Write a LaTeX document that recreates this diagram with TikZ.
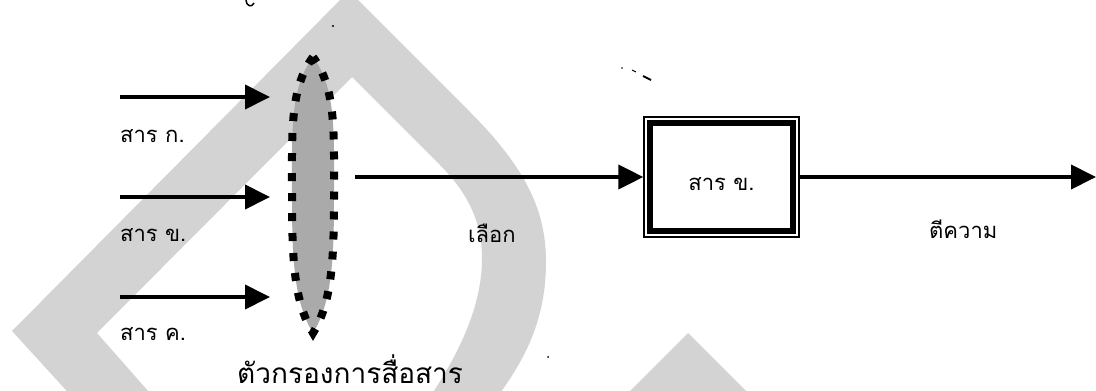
\documentclass[tikz,border=0pt]{standalone}
\usepackage{fontspec}
\newfontfamily\thaifont[Script=Thai]{Loma}
\usetikzlibrary{arrows.meta,shapes.geometric}
\definecolor{wm}{RGB}{211,211,211}
\definecolor{lensgray}{RGB}{170,170,170}
\begin{document}
\begin{tikzpicture}[x=1pt,y=-1pt,
  flow/.style={line width=4pt,-{Triangle[length=25pt,width=24pt]}},
  lbl/.style={anchor=base west,inner sep=0pt,text depth=0pt,font=\thaifont\fontsize{22}{24}\selectfont},
  biglbl/.style={anchor=base west,inner sep=0pt,text depth=0pt,font=\thaifont\fontsize{28}{30}\selectfont},
  filterlens/.style={fill=lensgray,draw=black,line width=8pt,dash pattern=on 8pt off 12pt},
  boxnode/.style={draw,line width=1.3pt,minimum width=155pt,minimum height=120pt,
    text height=26pt,text depth=0pt,inner sep=0pt,font=\thaifont\fontsize{22}{24}\selectfont}]
\clip (0,0) rectangle (1096,391);
\useasboundingbox (0,0) rectangle (1096,391);
% watermark shapes
\fill[wm,even odd rule]
  (75,400) -- (12,331) -- (349,-9) -- (470,112)
  .. controls (530,172) and (546,215) .. (546,262)
  .. controls (546,320) and (525,360) .. (495,400) -- cycle
  (156,400) -- (97,333) -- (352,77) -- (440,165)
  .. controls (470,195) and (482,225) .. (482,258)
  .. controls (482,300) and (465,345) .. (428,400) -- cycle;
\fill[wm] (688,333) -- (755,400) -- (621,400) -- cycle;
% filter lens
\path[filterlens] (313,57) .. controls (290,88) and (292,130) .. (292,195)
  .. controls (292,260) and (294,302) .. (313,333)
  .. controls (332,302) and (334,260) .. (334,195)
  .. controls (334,130) and (336,88) .. (313,57) -- cycle;
% coordinates
\coordinate (i1s) at (120,97);  \coordinate (i1e) at (270,97);
\coordinate (i2s) at (120,197); \coordinate (i2e) at (270,197);
\coordinate (i3s) at (120,297); \coordinate (i3e) at (270,297);
\coordinate (fo) at (355,177);
\coordinate (oe) at (1096,177);
% box
\node[boxnode] (b) at (721.5,177) {สาร ข.};
\draw[line width=6pt] ([xshift=6.5pt,yshift=-6.5pt]b.north west) rectangle ([xshift=-6.5pt,yshift=6.5pt]b.south east);
% arrows
\draw[flow] (i1s) -- (i1e);
\draw[flow] (i2s) -- (i2e);
\draw[flow] (i3s) -- (i3e);
\draw[flow] (fo) -- (b.west);
\draw[flow] (b.east) -- (oe);
% labels
\node[lbl] (la) at (120,142) {สาร ก.};
\node[lbl] (lb) at (120,241) {สาร ข.};
\node[lbl] (lc) at (120,340) {สาร ค.};
\node[lbl] (ls) at (468,242) {เลือก};
\node[lbl] (lt) at (929,238) {ตีความ};
\node[biglbl] (lf) at (237,383) {ตัวกรองการสื่อสาร};
% stray marks
\draw[line width=1.5pt] (246,0) .. controls (246,6) and (252,8) .. (254,3);
\fill (333,26) circle (1.2pt);
\fill (622,68) circle (0.8pt);
\draw[line width=1pt] (632,70) -- (636,72);
\draw[line width=2pt] (643,76) -- (651,80);
\fill (548,357) circle (1pt);
\end{tikzpicture}
\end{document}
